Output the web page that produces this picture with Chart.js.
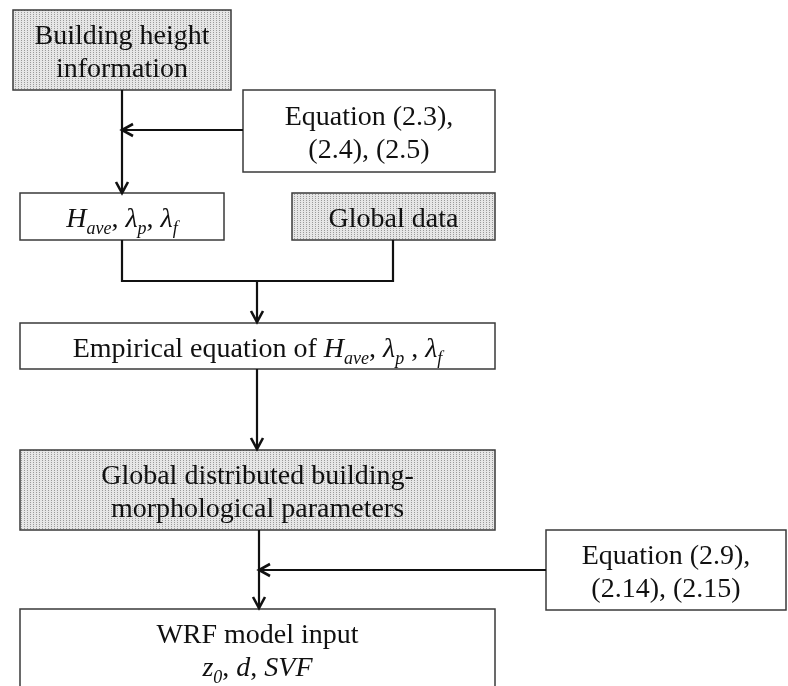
<!DOCTYPE html>
<html>
<head>
<meta charset="utf-8">
<script src="https://cdn.jsdelivr.net/npm/chart.js@4/dist/chart.umd.min.js"></script>
<style>
  body { margin: 0; background: #fff; }
  #wrap { width: 788px; height: 686px; }
</style>
</head>
<body>
<div id="wrap"><canvas id="flow" width="788" height="686"></canvas></div>
<script>
// node texts (runs: i = italic, sub = subscript)
var nodeText = [
  [['Building height'], ['information']],
  [['Equation (2.3),'], ['(2.4), (2.5)']],
  [[{t:'H',i:1},{t:'ave',i:1,sub:1},{t:', '},{t:'λ',i:1},{t:'p',i:1,sub:1},{t:', '},{t:'λ',i:1},{t:'f',i:1,sub:1}]],
  [['Global data']],
  [[{t:'Empirical equation of '},{t:'H',i:1},{t:'ave',i:1,sub:1},{t:', '},{t:'λ',i:1},{t:'p',i:1,sub:1},{t:' , '},{t:'λ',i:1},{t:'f',i:1,sub:1}]],
  [['Global distributed building-'], ['morphological parameters']],
  [['Equation (2.9),'], ['(2.14), (2.15)']],
  [['WRF model input'], [{t:'z',i:1},{t:'0',i:1,sub:1},{t:', '},{t:'d',i:1},{t:', '},{t:'SVF',i:1}]]
];
var nodeShaded = [true, false, false, true, false, true, false, false];

// layout of the boxes, in page units [x0, y0, x1, y1]
var nodeBox = [
  [13, 10, 231, 90],
  [243, 90, 495, 172],
  [20, 193, 224, 240],
  [292, 193, 495, 240],
  [20, 323, 495, 369],
  [20, 450, 495, 530],
  [546, 530, 786, 610],
  [20, 609, 495, 688]
];

// connectors: polyline points, arrow at the end or not
var links = [
  {p: [[122, 90], [122, 193]], arrow: true},
  {p: [[243, 130], [122, 130]], arrow: true},
  {p: [[122, 240], [122, 281], [393, 281], [393, 240]], arrow: false},
  {p: [[257, 281], [257, 322]], arrow: true},
  {p: [[257, 369], [257, 449]], arrow: true},
  {p: [[259, 530], [259, 608]], arrow: true},
  {p: [[546, 570], [259, 570]], arrow: true}
];

var FONT = '"Liberation Serif", "Times New Roman", serif';
var SIZE = 28;
var LINE_H = 33;

function dotPattern(ctx) {
  var c = document.createElement('canvas');
  c.width = 3; c.height = 2;
  var g = c.getContext('2d');
  g.fillStyle = '#e6e6e6';
  g.fillRect(0, 0, 3, 2);
  g.fillStyle = '#9a9a9a';
  g.fillRect(0, 0, 1, 1);
  return ctx.createPattern(c, 'repeat');
}

function runFont(r) {
  var s = r.sub ? Math.round(SIZE * 0.66) : SIZE;
  return (r.i ? 'italic ' : '') + s + 'px ' + FONT;
}

function drawLine(ctx, runs, cx, base) {
  runs = runs.map(function(r) { return typeof r === 'string' ? {t: r} : r; });
  var w = 0;
  runs.forEach(function(r) { ctx.font = runFont(r); w += ctx.measureText(r.t).width; });
  var x = cx - w / 2;
  runs.forEach(function(r) {
    ctx.font = runFont(r);
    ctx.fillText(r.t, x, base + (r.sub ? SIZE * 0.25 : 0));
    x += ctx.measureText(r.t).width;
  });
}

var flowPlugin = {
  id: 'flow',
  afterDatasetsDraw: function(chart) {
    var ctx = chart.ctx, xs = chart.scales.x, ys = chart.scales.y;
    var px = function(v) { return xs.getPixelForValue(v); };
    var py = function(v) { return ys.getPixelForValue(v); };
    var pat = dotPattern(ctx);
    ctx.save();
    // boxes
    nodeBox.forEach(function(b, k) {
      var x0 = px(b[0]), y0 = py(b[1]), x1 = px(b[2]), y1 = py(b[3]);
      ctx.fillStyle = nodeShaded[k] ? pat : '#fff';
      ctx.fillRect(x0, y0, x1 - x0, y1 - y0);
      ctx.lineWidth = 1.5;
      ctx.strokeStyle = '#3a3a3a';
      ctx.strokeRect(x0, y0, x1 - x0, y1 - y0);
      var lines = nodeText[k];
      var cx = (x0 + x1) / 2, cy = (y0 + y1) / 2;
      ctx.fillStyle = '#111';
      ctx.textBaseline = 'alphabetic';
      lines.forEach(function(ln, i) {
        var base = cy - (lines.length - 1) * LINE_H / 2 + i * LINE_H + SIZE * 0.38;
        drawLine(ctx, ln, cx, base);
      });
    });
    // connectors
    ctx.strokeStyle = '#111';
    ctx.lineWidth = 2.2;
    ctx.lineJoin = 'miter';
    links.forEach(function(l) {
      ctx.beginPath();
      l.p.forEach(function(q, i) {
        if (i === 0) ctx.moveTo(px(q[0]), py(q[1]));
        else ctx.lineTo(px(q[0]), py(q[1]));
      });
      ctx.stroke();
      if (l.arrow) {
        var a = l.p[l.p.length - 2], b = l.p[l.p.length - 1];
        var tx = px(b[0]), ty = py(b[1]);
        var ang = Math.atan2(ty - py(a[1]), tx - px(a[0]));
        var len = 11, hw = 6;
        var bx = tx - Math.cos(ang) * len, by = ty - Math.sin(ang) * len;
        var nx = -Math.sin(ang) * hw, ny = Math.cos(ang) * hw;
        ctx.lineWidth = 2.6;
        ctx.beginPath();
        ctx.moveTo(bx + nx, by + ny);
        ctx.lineTo(tx, ty);
        ctx.lineTo(bx - nx, by - ny);
        ctx.stroke();
        ctx.lineWidth = 2.2;
      }
    });
    ctx.restore();
  }
};

new Chart(document.getElementById('flow'), {
  type: 'scatter',
  data: {
    datasets: [{
      data: nodeBox.map(function(b) { return {x: (b[0] + b[2]) / 2, y: (b[1] + b[3]) / 2}; }),
      pointRadius: 0
    }]
  },
  options: {
    responsive: false,
    animation: false,
    layout: { padding: 0 },
    plugins: { legend: { display: false }, tooltip: { enabled: false } },
    scales: {
      x: { type: 'linear', min: 0, max: 788, display: false },
      y: { type: 'linear', min: 0, max: 686, reverse: true, display: false }
    }
  },
  plugins: [flowPlugin]
});
</script>
</body>
</html>
